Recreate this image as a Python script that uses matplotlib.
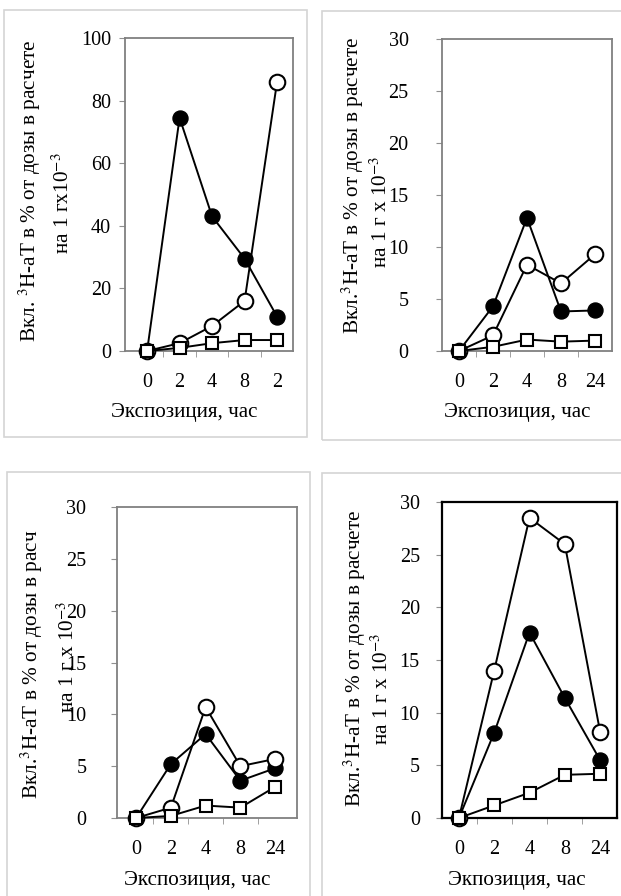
import numpy as np
import matplotlib
matplotlib.use('Agg')
import matplotlib.pyplot as plt
from matplotlib.patches import Rectangle

plt.rcParams['font.family'] = ['Liberation Serif', 'DejaVu Serif']
plt.rcParams['mathtext.fontset'] = 'stix'

W, H = 621, 896

# data
hours_a = ['0', '2', '4', '8', '2']
hours_b = ['0', '2', '4', '8', '24']

p1_filled = [0, 74.5, 43, 29.5, 11]
p1_open = [0, 2.5, 8, 16, 86]
p1_square = [0, 1.0, 2.5, 3.5, 3.5]

p2_filled = [0, 4.3, 12.8, 3.8, 3.9]
p2_open = [0, 1.5, 8.3, 6.5, 9.3]
p2_square = [0, 0.4, 1.1, 0.9, 1.0]

p3_filled = [0, 5.2, 8.1, 3.6, 4.8]
p3_open = [0, 1.0, 10.7, 5.0, 5.7]
p3_square = [0, 0.2, 1.2, 1.0, 3.0]

p4_filled = [0, 8.1, 17.6, 11.4, 5.5]
p4_open = [0, 14.0, 28.5, 26.0, 8.2]
p4_square = [0, 1.2, 2.4, 4.1, 4.2]

fig = plt.figure(figsize=(W / 100, H / 100), dpi=100)


def fx(x):
    return x / W


def fy(y):
    return 1 - y / H


def frame(x0, y0, x1, y1):
    fig.patches.append(Rectangle((fx(x0), fy(y1)), fx(x1 - x0), (y1 - y0) / H,
                                 transform=fig.transFigure, fill=False,
                                 edgecolor='#d4d4d4', lw=1.2))


def panel(box, xlim, ymax, ystep, labels, filled, opn, square,
          spine_col, spine_w, ypad, ylab, xlab):
    l, r, t, b = box
    ax = fig.add_axes([fx(l), fy(b), fx(r - l), (b - t) / H])
    x = np.arange(len(labels))
    # filled first, squares on top (as in the picture)
    ax.plot(x, filled, '-o', color='black', lw=1.4, ms=10.8,
            mfc='black', mec='black', clip_on=False, zorder=3)
    ax.plot(x, opn, '-o', color='black', lw=1.4, ms=11.2,
            mfc='white', mec='black', mew=1.5, clip_on=False, zorder=4)
    ax.plot(x, square, '-s', color='black', lw=1.4, ms=9.0,
            mfc='white', mec='black', mew=1.5, clip_on=False, zorder=5)
    ax.set_xlim(*xlim)
    ax.set_ylim(0, ymax)
    ax.set_yticks(np.arange(0, ymax + 0.1, ystep))
    ax.set_xticks(x)
    ax.set_xticklabels(labels)
    ax.set_xticks(x[:-1] + 0.5, minor=True)
    ax.tick_params(axis='x', which='major', length=0, pad=16, labelsize=14.5)
    ax.tick_params(axis='x', which='minor', length=4, color='#909090',
                   direction='out')
    ax.tick_params(axis='y', length=4, color='#909090', direction='out',
                   pad=ypad, labelsize=14.5)
    for s in ax.spines.values():
        s.set_color(spine_col)
        s.set_linewidth(spine_w)
    for (tx, ty, txt) in ylab:
        fig.text(fx(tx), fy(ty), txt, rotation=90, ha='center', va='center',
                 fontsize=15.3)
    fig.text(fx(xlab[0]), fy(xlab[1]), xlab[2], ha='center', va='center',
             fontsize=15.2)
    return ax


frame(4, 10, 307, 437)
frame(322, 11, 640, 440)
frame(7, 472, 310, 920)
frame(322, 473, 640, 920)

panel((125, 293, 38, 351), (-0.68, 4.49), 100, 20, hours_a,
      p1_filled, p1_open, p1_square, '#808080', 1.3, 6,
      [(30, 191, 'Вкл. $^3$H-аТ в % от дозы в расчете'),
       (63, 203, 'на 1 гх10$^{-3}$')],
      (184, 412, 'Экспозиция, час'))

panel((442, 612, 39, 351), (-0.5, 4.5), 30, 5, hours_b,
      p2_filled, p2_open, p2_square, '#808080', 1.3, 20,
      [(353, 185, 'Вкл.$^3$H-аТ в % от дозы в расчете'),
       (381, 212, 'на 1 г х 10$^{-3}$')],
      (517, 412, 'Экспозиция, час'))

panel((117, 297, 507, 818), (-0.55, 4.63), 30, 5, hours_b,
      p3_filled, p3_open, p3_square, '#808080', 1.3, 18,
      [(32, 664, 'Вкл.$^3$H-аТ в % от дозы в расч'),
       (68, 657, 'на 1 г х 10$^{-3}$')],
      (197, 880, 'Экспозиция, час'))

panel((442, 617, 502, 818), (-0.48, 4.48), 30, 5, hours_b,
      p4_filled, p4_open, p4_square, 'black', 1.6, 12,
      [(355, 658, 'Вкл.$^3$H-аТ в % от дозы в расчете'),
       (382, 689, 'на 1 г х 10$^{-3}$')],
      (517, 880, 'Экпозиция, час'))

fig.savefig('out.png', dpi=100)
